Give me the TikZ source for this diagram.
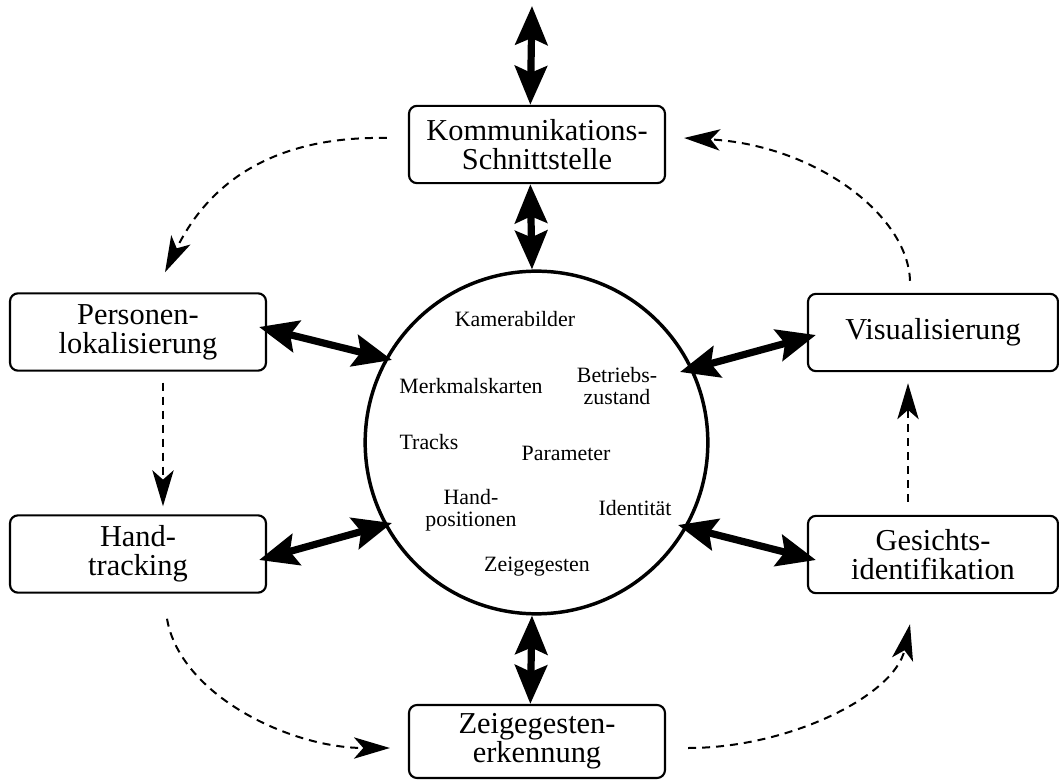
\documentclass[tikz,border=0pt]{standalone}
\usepackage{fontspec}
\setmainfont{Liberation Serif}
\usetikzlibrary{arrows.meta}
\begin{document}
\begin{tikzpicture}[x=0.75pt,y=-0.75pt,
  module/.style={draw, line width=1.6pt, rounded corners=6pt, minimum width=192pt,
    minimum height=58pt, inner sep=0pt, align=center,
    font=\fontsize{22.8pt}{21.8pt}\selectfont},
  store/.style={draw, circle, line width=2.6pt, minimum size=257pt, inner sep=0pt},
  item/.style={font=\fontsize{16.4pt}{16.2pt}\selectfont, inner sep=0pt, align=center},
  link/.style={line width=5.4pt, {Stealth[length=29pt,width=24pt,inset=5pt]}-{Stealth[length=29pt,width=24pt,inset=5pt]}},
  flow/.style={line width=1.5pt, dash pattern=on 6pt off 4.5pt,
    -{Stealth[length=27pt,width=16pt,inset=7pt]}}
]
\useasboundingbox (0,0) rectangle (1059,780);

% modules
\node[module] (komm) at (537,144.5) {Kommunikations-\\Schnittstelle};
\node[module] (pers) at (138,332) {Personen-\\lokalisierung};
\node[module] (hand) at (138,554) {Hand-\\tracking};
\node[module, minimum width=187.5pt] (vis) at (933,332.5) {Visualisierung};
\node[module, minimum width=187.5pt] (gesi) at (933,554.5) {Gesichts-\\identifikation};
\node[module, minimum height=54.75pt] (zeig) at (537,741.5) {Zeigegesten-\\erkennung};

% shared data store
\node[store] (mem) at (536.5,442.5) {};
\node[item, anchor=base] (kam) at (515,326) {Kamerabilder};
\node[item, anchor=base] (merk) at (471,393) {Merkmalskarten};
\node[item] (betr) at (617,386) {Betriebs-\\zustand};
\node[item, anchor=base] (trk) at (429,449) {Tracks};
\node[item, anchor=base] (par) at (566,460) {Parameter};
\node[item] (hpos) at (471,510.5) {Hand-\\positionen};
\node[item, anchor=base] (ident) at (635,515) {Identität};
\node[item, anchor=base] (zg) at (537,571.5) {Zeigegesten};

% outside connection
\coordinate (ext) at (532,6);

% bidirectional data links
\draw[link] (ext) -- ([xshift=-5]komm.north);
\draw[link] ([xshift=-5]komm.south) -- (mem.north -| ext);
\draw[link] ([shift={(-8,-5)}]pers.east) -- ([shift={(-144.5,-82.5)}]mem.center);
\draw[link] ([shift={(-8,6)}]hand.east) -- ([shift={(-144.5,80.5)}]mem.center);
\draw[link] ([shift={(9,2.5)}]vis.west) -- ([shift={(143.5,-70.5)}]mem.center);
\draw[link] ([shift={(9,5.5)}]gesi.west) -- ([shift={(141.5,82.5)}]mem.center);
\draw[link] (mem.south -| ext) -- ([xshift=-5]zeig.north);

% processing order
\draw[flow] ([shift={(-21,-6.5)}]komm.west) .. controls (290,136) and (215,170) .. ([shift={(27,-20)}]pers.north);
\draw[flow] ([shift={(25,11)}]pers.south) -- ([shift={(25,-8)}]hand.north);
\draw[flow] ([shift={(29,25)}]hand.south) .. controls (180,695) and (290,748) .. ([shift={(-18,6.5)}]zeig.west);
\draw[flow] ([shift={(22,6.5)}]zeig.east) .. controls (790,748) and (895,695) .. ([shift={(-23,30)}]gesi.south);
\draw[flow] ([shift={(-25,-13)}]gesi.north) -- ([shift={(-25,11)}]vis.south);
\draw[flow] ([shift={(-23,-12)}]vis.north) .. controls (908,215) and (815,145) .. ([shift={(18,-6.5)}]komm.east);
\end{tikzpicture}
\end{document}
